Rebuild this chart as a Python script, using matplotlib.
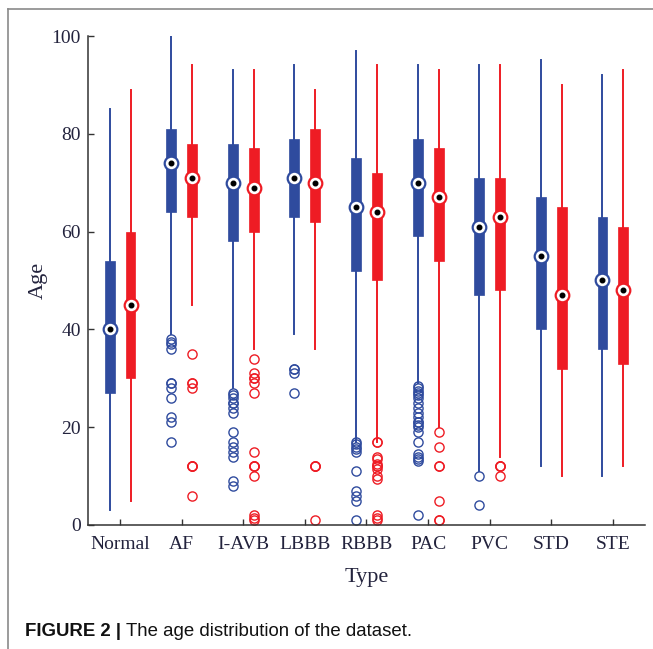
import matplotlib
matplotlib.use('Agg')
import matplotlib.pyplot as plt
from matplotlib.lines import Line2D
import numpy as np

categories = ['Normal', 'AF', 'I-AVB', 'LBBB', 'RBBB', 'PAC', 'PVC', 'STD', 'STE']

# first group (blue)
blue_whislo = [3, 39, 28, 39, 17, 29, 11, 12, 10]
blue_q1 = [27, 64, 58, 63, 52, 59, 47, 40, 36]
blue_med = [40, 74, 70, 71, 65, 70, 61, 55, 50]
blue_q3 = [54, 81, 78, 79, 75, 79, 71, 67, 63]
blue_whishi = [85, 100, 93, 94, 97, 94, 94, 95, 92]
blue_fliers = [
    [],
    [38, 37.5, 37, 36, 29, 29, 28, 26, 22, 21, 17],
    [27, 26.5, 26, 25, 25, 24, 23, 19, 17, 16, 15, 14, 9, 8],
    [32, 32, 31, 27],
    [17, 16.5, 16, 15.5, 15, 11, 7, 6, 5, 1],
    [28.5, 28, 27.5, 27, 26.5, 26, 25, 24, 23, 22, 21, 21, 20.5, 20, 19, 17,
     14.5, 14, 13.5, 13, 2],
    [10, 4],
    [],
    [],
]

# second group (red)
red_whislo = [5, 45, 36, 36, 17, 20, 14, 10, 12]
red_q1 = [30, 63, 60, 62, 50, 54, 48, 32, 33]
red_med = [45, 71, 69, 70, 64, 67, 63, 47, 48]
red_q3 = [60, 78, 77, 81, 72, 77, 71, 65, 61]
red_whishi = [89, 94, 93, 89, 94, 93, 94, 90, 93]
red_fliers = [
    [],
    [35, 29, 29, 28, 12, 12, 12, 6],
    [34, 31, 30, 30, 29, 27, 15, 12, 12, 12, 10, 2, 1.5, 1],
    [12, 12, 12, 1],
    [17, 17, 14, 13.5, 12.5, 12, 12, 11.5, 10, 9.5, 2, 1.5, 1],
    [19, 16, 12, 12, 5, 1, 1],
    [12, 12, 12, 10],
    [],
    [],
]

blue = '#2f4b9e'
red = '#ee1c24'
txt = '#23233d'

fig = plt.figure(figsize=(6.53, 6.49), dpi=100)
ax = fig.add_axes([0.1348, 0.1911, 0.8529, 0.7534])

x = np.arange(1, len(categories) + 1)
offset = 0.17


def make_stats(lo, q1, med, q3, hi, fl):
    return [dict(whislo=a, q1=b, med=c, q3=d, whishi=e, fliers=f)
            for a, b, c, d, e, f in zip(lo, q1, med, q3, hi, fl)]


groups = [
    (make_stats(blue_whislo, blue_q1, blue_med, blue_q3, blue_whishi, blue_fliers),
     blue_med, blue, x - offset),
    (make_stats(red_whislo, red_q1, red_med, red_q3, red_whishi, red_fliers),
     red_med, red, x + offset),
]

for stats, med, col, pos in groups:
    ax.bxp(stats, positions=pos, widths=0.16, patch_artist=True, showcaps=False,
           boxprops=dict(facecolor=col, edgecolor=col, linewidth=0.5),
           whiskerprops=dict(color=col, linewidth=1.4),
           medianprops=dict(linewidth=0),
           flierprops=dict(marker='o', markersize=6.6, markerfacecolor='none',
                           markeredgecolor=col, markeredgewidth=1.0),
           manage_ticks=False, zorder=2)
    ax.plot(pos, med, 'o', ms=9.8, mfc='white', mec=col, mew=1.6, ls='none', zorder=4)
    ax.plot(pos, med, 'o', ms=3.3, mfc='black', mec='black', ls='none', zorder=5)

ax.set_xlim(0.48, 9.52)
ax.set_ylim(0, 100)
ax.set_xticks(x)
ax.set_xticklabels(categories)
ax.set_yticks([0, 20, 40, 60, 80, 100])

for s in ['top', 'right']:
    ax.spines[s].set_visible(False)
for s in ['left', 'bottom']:
    ax.spines[s].set_linewidth(1.1)
    ax.spines[s].set_color('#333333')

ax.tick_params(direction='in', length=4, width=1.0, color='#333333',
               labelsize=14, labelcolor=txt)
ax.tick_params(axis='x', pad=8)
ax.tick_params(axis='y', pad=5)
for lab in ax.get_xticklabels() + ax.get_yticklabels():
    lab.set_fontfamily('Liberation Serif')

ax.set_ylabel('Age', fontsize=16, family='Liberation Serif', color=txt, labelpad=3)
ax.set_xlabel('Type', fontsize=16, family='Liberation Serif', color=txt, labelpad=11)

# caption: bold label followed by normal text
cap1 = fig.text(25 / 653, 1 - 631 / 649, 'FIGURE 2 |', fontsize=13.4, family='Liberation Sans',
                weight='bold', color='#111111', va='center')
fig.canvas.draw()
bb = cap1.get_window_extent()
fig.text(bb.x1 / fig.bbox.width + 5 / 653, 1 - 631 / 649, 'The age distribution of the dataset.',
         fontsize=13.4, family='Liberation Sans', color='#111111', va='center')

# outer frame (top and left)
fig.add_artist(Line2D([8 / 653, 1.0], [1 - 9 / 649, 1 - 9 / 649],
                      color='#8a8a8a', lw=1.2, transform=fig.transFigure))
fig.add_artist(Line2D([8 / 653, 8 / 653], [0, 1 - 9 / 649],
                      color='#8a8a8a', lw=1.2, transform=fig.transFigure))

fig.savefig('out.png', dpi=100)
